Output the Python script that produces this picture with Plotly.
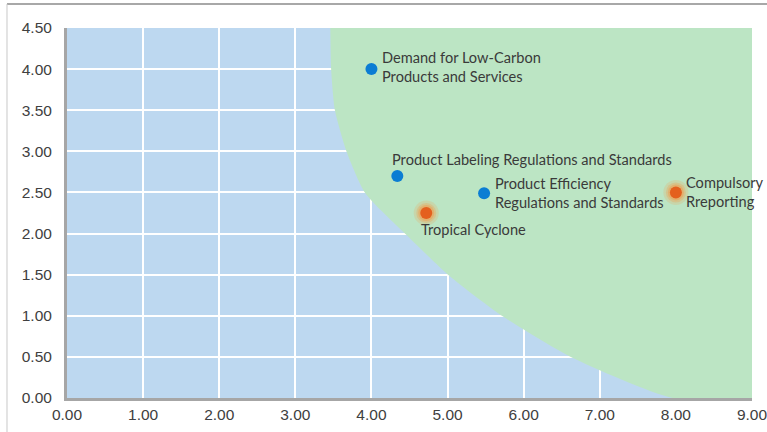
import plotly.graph_objects as go

# Risk / opportunity points
labels = ["Demand for Low-Carbon<br>Products and Services",
          "Product Labeling Regulations and Standards",
          "Product Efficiency<br>Regulations and Standards",
          "Tropical Cyclone",
          "Compulsory<br>Rreporting"]
x_vals = [4.0, 4.34, 5.48, 4.72, 8.0]
y_vals = [4.0, 2.70, 2.49, 2.25, 2.50]
kind = ["opp", "opp", "opp", "risk", "opp_risk"]

# Boundary of the green zone (curve from top to bottom)
zone_x = [3.46, 3.47, 3.52, 3.68, 3.92, 4.44, 5.03, 5.73, 6.64, 7.96]
zone_y = [4.50, 4.00, 3.50, 2.98, 2.49, 2.00, 1.48, 0.99, 0.49, 0.00]

x_ticks = [0, 1, 2, 3, 4, 5, 6, 7, 8, 9]
y_ticks = [0, 0.5, 1, 1.5, 2, 2.5, 3, 3.5, 4, 4.5]

BLUE_BG = "#BDD8F0"
GREEN_BG = "#BCE5C4"
BLUE_PT = "#0B7DD3"
ORANGE_PT = "#E4601E"

fig = go.Figure()

# green zone
fig.add_trace(go.Scatter(
    x=zone_x + [9, 9], y=zone_y + [0, 4.5],
    mode="lines", fill="toself", fillcolor=GREEN_BG,
    line=dict(width=0, color=GREEN_BG, shape="spline", smoothing=0.6),
    hoverinfo="skip", showlegend=False))

blue_idx = [i for i, k in enumerate(kind) if k == "opp"]
orange_idx = [i for i, k in enumerate(kind) if k != "opp"]

# glow for orange points
for sz, op in [(25, 0.2), (20, 0.3), (16, 0.45)]:
    fig.add_trace(go.Scatter(
        x=[x_vals[i] for i in orange_idx], y=[y_vals[i] for i in orange_idx],
        mode="markers", marker=dict(size=sz, color="#F39A4A", opacity=op, line=dict(width=0)),
        hoverinfo="skip", showlegend=False))
fig.add_trace(go.Scatter(
    x=[x_vals[i] for i in orange_idx], y=[y_vals[i] for i in orange_idx],
    mode="markers", marker=dict(size=12, color=ORANGE_PT, line=dict(width=0)),
    showlegend=False))
fig.add_trace(go.Scatter(
    x=[x_vals[i] for i in blue_idx], y=[y_vals[i] for i in blue_idx],
    mode="markers", marker=dict(size=12, color=BLUE_PT, line=dict(width=0)),
    showlegend=False))

# label placements: (xanchor, yanchor, xshift, yshift)
place = [("left", "middle", 9, 2),
         ("left", "bottom", -7, 6),
         ("left", "middle", 9, 0),
         ("left", "top", -7, -6),
         ("left", "middle", 8, 0)]
for i, lab in enumerate(labels):
    xa, ya, xs, ys = place[i]
    fig.add_annotation(x=x_vals[i], y=y_vals[i], text=lab, showarrow=False,
                       xanchor=xa, yanchor=ya, xshift=xs, yshift=ys, align="left",
                       font=dict(family="Lato", size=14.6, color="#3a3a3a"))

# outer frame lines (top and left)
fig.add_shape(type="line", xref="paper", yref="paper",
              x0=-0.0876, x1=1.03, y0=1.065, y1=1.065,
              line=dict(color="#A8A8A8", width=2))
fig.add_shape(type="line", xref="paper", yref="paper",
              x0=-0.0876, x1=-0.0876, y0=1.065, y1=-0.1,
              line=dict(color="#C8C8C8", width=1))

fig.update_xaxes(range=[0, 9], tickvals=x_ticks, tickformat=".2f",
                 showgrid=True, gridcolor="white", gridwidth=1.5,
                 zeroline=False, showline=True, linecolor="#A6A6A6", linewidth=3,
                 ticks="", ticklabelstandoff=0, automargin=False,
                 ticklabeloverflow="allow",
                 tickfont=dict(family="Liberation Sans", size=15.5, color="#404040"))
fig.update_yaxes(range=[0, 4.5], tickvals=y_ticks, tickformat=".2f",
                 showgrid=True, gridcolor="white", gridwidth=1.5,
                 zeroline=False, showline=True, linecolor="#A6A6A6", linewidth=3,
                 ticks="", ticklabelstandoff=9, automargin=False,
                 ticklabeloverflow="allow",
                 tickfont=dict(family="Liberation Sans", size=15.5, color="#404040"))

fig.update_layout(width=767, height=432,
                  margin=dict(l=67, r=15, t=28, b=34),
                  plot_bgcolor=BLUE_BG, paper_bgcolor="white",
                  showlegend=False)

fig.write_html("out.html")
